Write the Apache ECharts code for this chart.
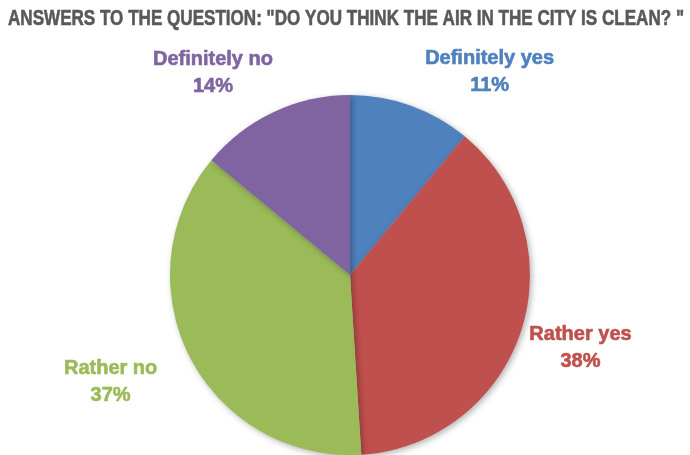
<!DOCTYPE html>
<html>
<head>
    <meta charset="UTF-8">
    <title></title>
    <script type="text/javascript" src="https://cdn.jsdelivr.net/npm/echarts@6/dist/echarts.min.js"></script>
    <style>
        html, body { margin: 0; padding: 0; background: #fff; }
        #main { width: 690px; height: 455px; }
    </style>
</head>
<body>
<div id="main"></div>
<script>
    var titleText = 'ANSWERS TO THE QUESTION: "DO YOU THINK THE AIR IN THE CITY IS CLEAN? "';
    var categories = ['Definitely yes', 'Rather yes', 'Rather no', 'Definitely no'];
    var values = [11, 38, 37, 14];
    var colors = ['#4F81BD', '#C0504D', '#9BBB59', '#8064A2'];
    // small label shifts to mimic the spreadsheet's best-fit placement
    var labelNudge = [[60, 18], [7, 0], [-30, 0], [-37, 11]];

    var titleFont = 'bold 22px "Liberation Sans", Arial, sans-serif';
    var ctx = document.createElement('canvas').getContext('2d');
    ctx.font = titleFont;
    var titleScale = 676 / ctx.measureText(titleText).width;

    var pieData = [];
    for (var i = 0; i < categories.length; i++) {
        pieData.push({
            name: categories[i],
            value: values[i],
            itemStyle: { color: colors[i] },
            label: { color: colors[i], textBorderColor: colors[i] }
        });
    }

    var myChart = echarts.init(document.getElementById('main'));
    myChart.setOption({
        animation: false,
        graphic: [{
            type: 'text',
            x: 8,
            y: 8,
            scaleX: titleScale,
            style: {
                text: titleText,
                fill: '#595959',
                stroke: '#595959',
                lineWidth: 0.6,
                font: titleFont
            }
        }],
        series: [{
            type: 'pie',
            center: [350, 275],
            radius: 180,
            startAngle: 90,
            clockwise: true,
            data: pieData,
            itemStyle: {
                shadowBlur: 6,
                shadowOffsetX: 2,
                shadowOffsetY: 2,
                shadowColor: 'rgba(0,0,0,0.3)'
            },
            label: {
                position: 'outside',
                formatter: '{b}\n{c}%',
                fontFamily: '"Liberation Sans", Arial, sans-serif',
                fontWeight: 'bold',
                fontSize: 20,
                lineHeight: 27,
                textBorderWidth: 0.6,
                overflow: 'none',
                align: 'center'
            },
            labelLine: {
                show: true,
                length: 55,
                length2: 0,
                lineStyle: { opacity: 0 }
            },
            labelLayout: function (params) {
                var p = params.labelLinePoints;
                if (!p) return {};
                var n = labelNudge[params.dataIndex];
                return {
                    x: p[2][0] + n[0],
                    y: p[2][1] + n[1],
                    align: 'center',
                    verticalAlign: 'middle'
                };
            }
        }]
    });
</script>
</body>
</html>
